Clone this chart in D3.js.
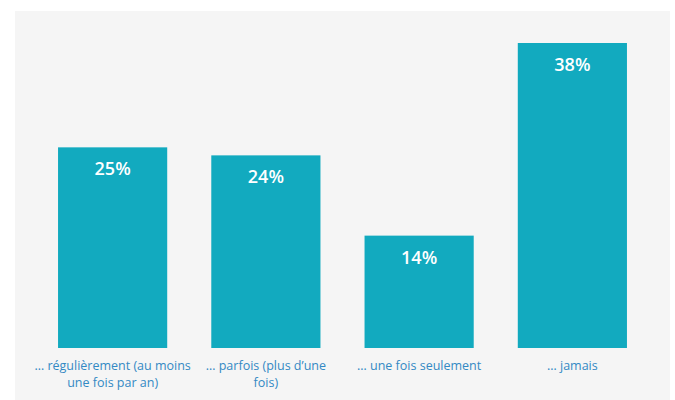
<!DOCTYPE html>
<html>
<head>
<meta charset="utf-8">
<script src="https://cdn.jsdelivr.net/npm/d3@7"></script>
<style>
  html, body { margin: 0; padding: 0; background: #ffffff; }
  svg { display: block; }
</style>
</head>
<body>
<svg id="chart" width="675" height="400"></svg>
<script>
// Share of respondents by frequency
const categories = [
  ["… régulièrement (au moins", "une fois par an)"],
  ["… parfois (plus d’une", "fois)"],
  ["… une fois seulement"],
  ["… jamais"]
];
const values = [25, 24, 14, 38];
const valueLabels = ["25%", "24%", "14%", "38%"];

const W = 675, H = 400;
const panel = { left: 15, top: 11, right: 670, bottom: 400 };
const baseline = 348;

const svg = d3.select("#chart");

svg.append("rect")
  .attr("x", panel.left).attr("y", panel.top)
  .attr("width", panel.right - panel.left)
  .attr("height", panel.bottom - panel.top)
  .attr("fill", "#f5f5f5");

const keys = categories.map((_, i) => i);
const x = d3.scaleBand()
  .domain(keys)
  .range([36, 649])
  .paddingInner(0.2876)
  .paddingOuter(0.1438);

const y = d3.scaleLinear()
  .domain([0, 38])
  .range([baseline, 43]);

svg.selectAll("rect.bar")
  .data(values)
  .join("rect")
  .attr("class", "bar")
  .attr("x", (d, i) => x(i))
  .attr("y", d => y(d))
  .attr("width", x.bandwidth())
  .attr("height", d => baseline - y(d))
  .attr("fill", "#12aabf");

svg.selectAll("text.val")
  .data(values)
  .join("text")
  .attr("class", "val")
  .attr("x", (d, i) => x(i) + x.bandwidth() / 2)
  .attr("y", d => y(d) + 28)
  .attr("text-anchor", "middle")
  .attr("fill", "#ffffff")
  .style("font-family", "'Open Sans', sans-serif")
  .style("font-weight", 600)
  .style("font-size", "18px")
  .text((d, i) => valueLabels[i]);

const cat = svg.selectAll("text.cat")
  .data(categories)
  .join("text")
  .attr("class", "cat")
  .attr("x", (d, i) => x(i) + x.bandwidth() / 2)
  .attr("y", 370)
  .attr("text-anchor", "middle")
  .attr("fill", "#3389c4")
  .style("font-family", "'Open Sans', sans-serif")
  .style("font-size", "12.5px");

cat.selectAll("tspan")
  .data(d => d)
  .join("tspan")
  .attr("x", function () { return d3.select(this.parentNode).attr("x"); })
  .attr("dy", (d, j) => j === 0 ? 0 : 17)
  .text(d => d);
</script>
</body>
</html>
